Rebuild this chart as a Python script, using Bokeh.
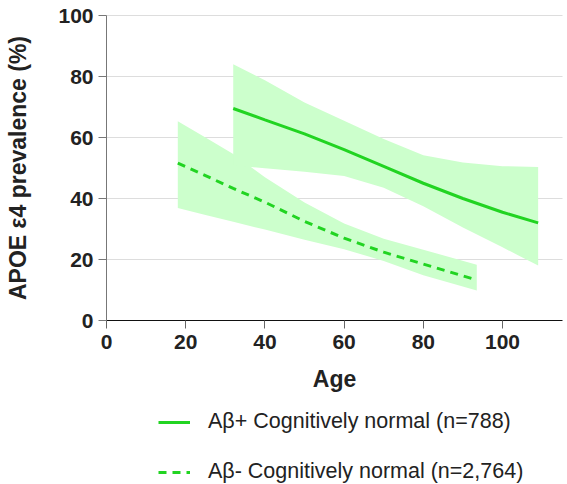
from bokeh.plotting import figure
from bokeh.models import Legend, LegendItem, Range1d, FixedTicker
from bokeh.embed import file_html
from bokeh.resources import INLINE

# Aβ+ cognitively normal
ages_pos = [32, 40, 50, 60, 70, 80, 90, 100, 109]
prev_pos = [69.5, 65.8, 61.2, 56, 50.5, 45, 40, 35.5, 32]
lo_pos = [50.9, 49.9, 48.8, 47.4, 43.5, 37.5, 30.5, 24, 18]
hi_pos = [84, 78.8, 71.5, 65.5, 59.5, 54.2, 51.8, 50.6, 50.3]

# Aβ- cognitively normal
ages_neg = [18, 25, 32, 40, 50, 60, 70, 80, 93.5]
prev_neg = [51.6, 47.5, 43.3, 38.8, 32.5, 27, 22.4, 18.5, 13.3]
lo_neg = [36.9, 34.6, 32.4, 29.8, 26.5, 23.4, 19.5, 14.8, 9.8]
hi_neg = [65.3, 60, 54.6, 47, 38.7, 31.8, 26.8, 23.2, 18.3]

x_ticks = [0, 20, 40, 60, 80, 100]
y_ticks = [0, 20, 40, 60, 80, 100]
x_extent = (0, 115.2)
y_extent = (0, 100)
labels = ["A\u03b2+ Cognitively normal (n=788)", "A\u03b2- Cognitively normal (n=2,764)"]

LINE = "#22d422"
BAND = "#ccffcc"
FONT = "Liberation Sans"

# the frame covers the whole canvas; axes sit at fixed locations inside it
p = figure(width=567, height=484, output_backend="svg", toolbar_location=None,
           x_range=Range1d(-26.77, 116.41), y_range=Range1d(-53.77, 104.92),
           min_border=0)
p.outline_line_color = None
p.xgrid.grid_line_color = None
p.ygrid.grid_line_color = "#dddddd"
p.ygrid.ticker = FixedTicker(ticks=y_ticks[1:])
p.ygrid.cross_bounds = x_extent

p.varea(x=ages_neg, y1=lo_neg, y2=hi_neg, fill_color=BAND)
p.varea(x=ages_pos, y1=lo_pos, y2=hi_pos, fill_color=BAND)
r_pos = p.line(ages_pos, prev_pos, line_color=LINE, line_width=3)
r_neg = p.line(ages_neg, prev_neg, line_color=LINE, line_width=3, line_dash="8 6")

for ax in (p.xaxis[0], p.yaxis[0]):
    ax.minor_tick_line_color = None
    ax.major_tick_in = 0
    ax.major_tick_out = 8
    ax.fixed_location = 0
    ax.major_label_text_font = FONT
    ax.major_label_text_font_style = "bold"
    ax.major_label_text_font_size = "21px"
    ax.major_label_text_color = "#222222"
    ax.axis_label_text_font = FONT
    ax.axis_label_text_font_style = "bold"
    ax.axis_label_text_font_size = "23px"
    ax.axis_label_text_color = "#222222"

p.xaxis.ticker = FixedTicker(ticks=x_ticks)
p.yaxis.ticker = FixedTicker(ticks=y_ticks)
p.xaxis.bounds = x_extent
p.yaxis.bounds = y_extent
p.xaxis.axis_label = "Age"
p.yaxis.axis_label = "APOE \u03b54 prevalence (%)"
p.xaxis.axis_line_color = "#111111"
p.xaxis.major_tick_line_color = "#666666"
p.yaxis.axis_line_color = "#777777"
p.yaxis.major_tick_line_color = "#777777"
p.xaxis.major_label_standoff = 6
p.yaxis.major_label_standoff = 5
p.xaxis.axis_label_standoff = 14
p.yaxis.axis_label_standoff = 24

legend = Legend(items=[LegendItem(label=labels[0], renderers=[r_pos]),
                       LegendItem(label=labels[1], renderers=[r_neg])],
                location=(158, 0), orientation="vertical",
                label_text_font=FONT, label_text_font_size="21.5px",
                label_text_color="#222222",
                glyph_width=32, label_standoff=18, spacing=25,
                padding=0, margin=0, border_line_color=None,
                background_fill_alpha=0)
p.add_layout(legend, "center")

open("out.html", "w").write(file_html(p, INLINE))
